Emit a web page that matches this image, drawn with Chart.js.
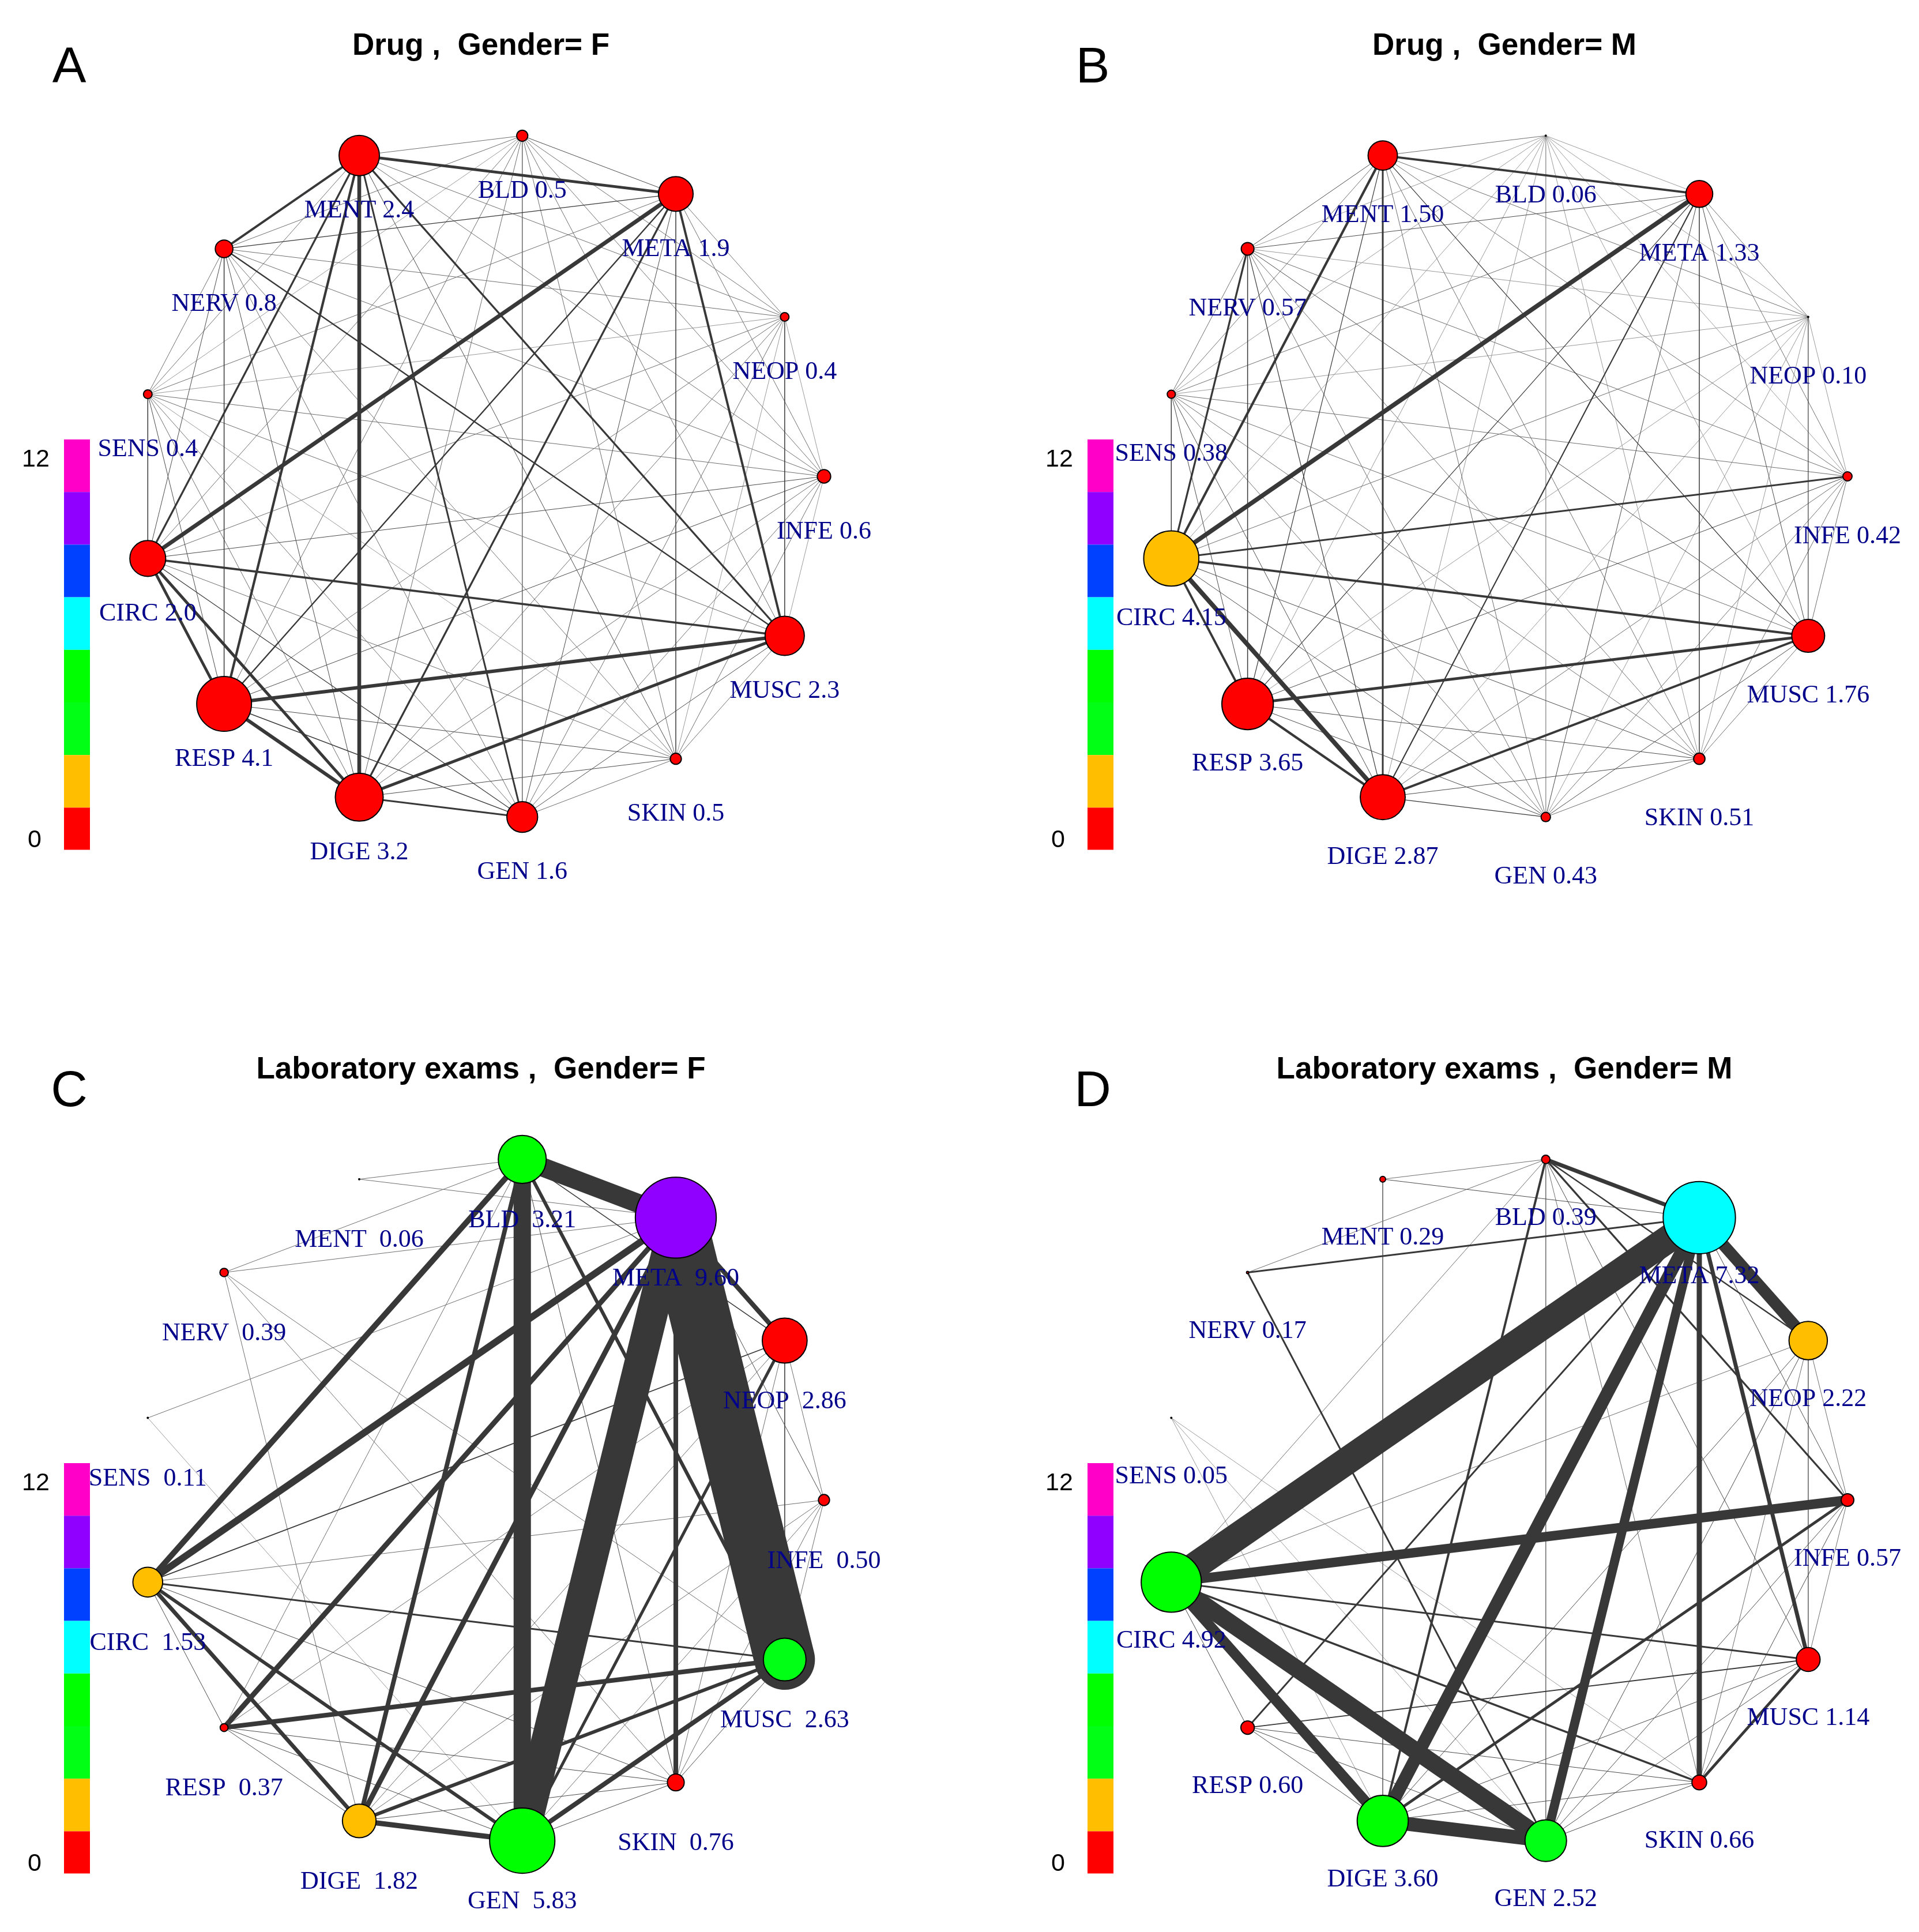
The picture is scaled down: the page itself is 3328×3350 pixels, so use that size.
<!DOCTYPE html>
<html lang="en">
<head>
  <meta charset="UTF-8">
  <title>Comorbidity networks by gender</title>
  <script src="https://cdn.jsdelivr.net/npm/chart.js"></script>
  <style>
    body {
      margin: 0;
      background: #fff;
      width: 3328px;
      height: 3350px;
      position: relative;
      overflow: hidden;
    }
    canvas {
      position: absolute;
    }
  </style>
</head>
<body>
  <canvas id="netA" width="1553" height="1575" style="left:0;top:0"></canvas>
  <canvas id="netB" width="1553" height="1575" style="left:1775px;top:0"></canvas>
  <canvas id="netC" width="1553" height="1575" style="left:0;top:1775px"></canvas>
  <canvas id="netD" width="1553" height="1575" style="left:1775px;top:1775px"></canvas>

  <script>
    // node order round the circle (clockwise from top-left)
    const groups = ["MENT", "BLD", "META", "NEOP", "INFE", "MUSC", "SKIN", "GEN", "DIGE", "RESP", "CIRC", "SENS", "NERV"];

    // value printed next to each node (also drives node size)
    const drugF = [2.4, 0.5, 1.9, 0.4, 0.6, 2.3, 0.5, 1.6, 3.2, 4.1, 2.0, 0.4, 0.8];
    const drugM = [1.50, 0.06, 1.33, 0.10, 0.42, 1.76, 0.51, 0.43, 2.87, 3.65, 4.15, 0.38, 0.57];
    const labF  = [0.06, 3.21, 9.60, 2.86, 0.50, 2.63, 0.76, 5.83, 1.82, 0.37, 1.53, 0.11, 0.39];
    const labM  = [0.29, 0.39, 7.32, 2.22, 0.57, 1.14, 0.66, 2.52, 3.60, 0.60, 4.92, 0.05, 0.17];

    // score on the 0-12 colour scale for each node
    const drugF_score = [0.8, 0.8, 0.8, 0.8, 0.8, 0.8, 0.8, 0.8, 0.8, 0.8, 0.8, 0.8, 0.8];
    const drugM_score = [0.8, 0.5, 0.8, 0.5, 0.8, 0.8, 0.8, 0.8, 0.8, 0.8, 2.2, 0.5, 0.8];
    const labF_score  = [0.5, 4.5, 9.8, 1.0, 0.5, 4.0, 0.8, 5.0, 2.2, 0.5, 2.0, 0.3, 0.5];
    const labM_score  = [0.5, 0.6, 6.8, 2.3, 0.7, 1.2, 0.8, 4.0, 4.5, 0.7, 5.0, 0.2, 0.3];

    // colour scale
    const scaleTicks = [0, 12];
    const scaleColours = ["#FF0000", "#FFBF00", "#00FF14", "#00FF00", "#00FFFF", "#0040FF", "#9000FF", "#FF00C8"];

    // link strength, upper triangle: row i lists links to groups i+1 .. 12
    const drugF_links = [
      [0.3, 1.6, 0.3, 0.3, 1.1, 0.35, 1.0, 2.2, 1.4, 1.1, 0.3, 1.3],
      [0.35, 0.3, 0.3, 0.3, 0.3, 0.3, 0.3, 0.3, 0.3, 0.25, 0.3],
      [0.3, 0.3, 1.3, 0.5, 0.35, 1.1, 0.8, 2.3, 0.3, 0.4],
      [0.25, 0.5, 0.25, 0.3, 0.3, 0.3, 0.3, 0.25, 0.3],
      [0.25, 0.3, 0.3, 0.3, 0.35, 0.35, 0.3, 0.3],
      [0.3, 0.35, 1.7, 2.0, 1.2, 0.3, 0.8],
      [0.3, 0.35, 0.35, 0.3, 0.25, 0.3],
      [1.0, 0.5, 0.4, 0.3, 0.3],
      [2.0, 1.7, 0.3, 0.35],
      [1.6, 0.35, 0.5],
      [0.5, 0.35],
      [0.3]
    ];
    const drugM_links = [
      [0.3, 1.3, 0.3, 0.3, 0.4, 0.3, 0.3, 1.0, 0.4, 1.4, 0.3, 0.35],
      [0.25, 0.25, 0.25, 0.25, 0.25, 0.25, 0.25, 0.25, 0.25, 0.25, 0.25],
      [0.3, 0.3, 0.35, 0.5, 0.35, 0.7, 0.4, 2.6, 0.3, 0.35],
      [0.25, 0.4, 0.25, 0.25, 0.25, 0.25, 0.3, 0.25, 0.25],
      [0.3, 0.3, 0.3, 0.3, 0.35, 1.0, 0.3, 0.3],
      [0.3, 0.35, 1.3, 1.6, 1.3, 0.3, 0.35],
      [0.3, 0.35, 0.35, 0.35, 0.3, 0.3],
      [0.4, 0.35, 0.35, 0.3, 0.3],
      [1.4, 2.6, 0.35, 0.4],
      [1.3, 0.35, 0.5],
      [0.5, 1.1],
      [0.3]
    ];
    const labF_links = [
      [0.3, 0.3, 0, 0, 0, 0, 0, 0, 0, 0, 0, 0],
      [11, 0.5, 0, 2.0, 0.35, 10, 2.6, 0.3, 3.3, 0, 0.3],
      [2.7, 0.35, 35, 2.7, 18, 3.0, 3.0, 4.0, 0.3, 0.3],
      [0.3, 0.35, 0.3, 1.7, 0.3, 0.3, 0.6, 0, 0],
      [0.3, 0.3, 0.3, 0.3, 0, 0.3, 0, 0],
      [0.35, 2.7, 2.0, 2.7, 1.0, 0, 0.3],
      [0.35, 0.35, 0.35, 0.35, 0, 0.3],
      [3.0, 0.35, 2.0, 0.25, 0],
      [0.35, 2.3, 0, 0.3],
      [0.35, 0, 0],
      [0, 0],
      [0]
    ];
    const labM_links = [
      [0.3, 0.35, 0, 0, 0, 0, 0, 0.3, 0, 0, 0, 0],
      [2.3, 0.8, 1.1, 0.35, 0.3, 0.3, 1.3, 0, 0.3, 0, 0.3],
      [6.7, 0.35, 2.3, 3.0, 5.3, 7.3, 1.0, 16, 0, 1.0],
      [0.3, 0.3, 0.3, 0.35, 0.35, 0, 0.3, 0, 0],
      [0.3, 0.35, 0.35, 1.6, 0, 5.5, 0, 0],
      [1.6, 0.35, 0.35, 0.6, 1.0, 0, 0],
      [0.35, 0.35, 0.35, 1.2, 0.25, 0],
      [8.0, 0.35, 10, 0.25, 1.0],
      [0.35, 6.0, 0.25, 0],
      [0.35, 0, 0],
      [0, 0],
      [0]
    ];

    const panels = [
      { id: "netA", letter: "A", title: "Drug ,  Gender= F", values: drugF, score: drugF_score, links: drugF_links, digits: 1, sep: " ", labelGap: 96 },
      { id: "netB", letter: "B", title: "Drug ,  Gender= M", values: drugM, score: drugM_score, links: drugM_links, digits: 2, sep: " ", labelGap: 104 },
      { id: "netC", letter: "C", title: "Laboratory exams ,  Gender= F", values: labF, score: labF_score, links: labF_links, digits: 2, sep: "  ", labelGap: 106 },
      { id: "netD", letter: "D", title: "Laboratory exams ,  Gender= M", values: labM, score: labM_score, links: labM_links, digits: 2, sep: " ", labelGap: 102 }
    ];

    // circle layout, INFE sits at 3 o'clock
    function layout() {
      let n = groups.length;
      return groups.map((g, i) => {
        let a = (4 - i) * 2 * Math.PI / n;
        return { x: Math.cos(a), y: Math.sin(a) };
      });
    }

    function nodeDiameter(v) {
      return Math.max(4, 61.9 * Math.log(1 + v) - 3.8);
    }

    function scoreColour(s) {
      let k = Math.min(scaleColours.length - 1, Math.floor(s / 1.5));
      return scaleColours[k];
    }

    // faint links are drawn 1px in a lighter grey
    function linkColour(w) {
      if (w < 0.3) return "#9a9a9a";
      if (w < 0.35) return "#6e6e6e";
      if (w < 0.4) return "#4a4a4a";
      return "#383838";
    }

    const decor = {
      id: "decor",
      afterDatasetsDraw(chart) {
        let p = chart.options.plugins.decor.panel;
        let ctx = chart.ctx;
        let xs = chart.scales.x, ys = chart.scales.y;
        let pos = layout();
        ctx.save();
        // node labels
        ctx.font = '44px "Liberation Serif", "Times New Roman", serif';
        ctx.fillStyle = "#00008B";
        ctx.textAlign = "center";
        ctx.textBaseline = "middle";
        groups.forEach((g, i) => {
          let px = xs.getPixelForValue(pos[i].x);
          let py = ys.getPixelForValue(pos[i].y) + p.labelGap;
          ctx.fillText(g + p.sep + p.values[i].toFixed(p.digits), px, py);
        });
        ctx.restore();
      },
      afterDraw(chart) {
        let p = chart.options.plugins.decor.panel;
        let ctx = chart.ctx;
        ctx.save();
        // title
        ctx.fillStyle = "#000";
        ctx.textAlign = "center";
        ctx.textBaseline = "middle";
        ctx.font = 'bold 53px "Liberation Sans", Arial, sans-serif';
        ctx.fillText(p.title, 834, 80);
        // panel letter
        ctx.textBaseline = "alphabetic";
        ctx.font = '88px "Liberation Sans", Arial, sans-serif';
        ctx.fillText(p.letter, 120, 143);
        // colour bar
        let top = 762, bottom = 1473.5, band = 91.2, x0 = 111, w = 45;
        scaleColours.slice().reverse().forEach((c, k) => {
          let y0 = top + k * band;
          let y1 = Math.min(bottom, y0 + band);
          ctx.fillStyle = c;
          ctx.fillRect(x0, y0, w, y1 - y0);
        });
        ctx.fillStyle = "#000";
        ctx.font = '43px "Liberation Sans", Arial, sans-serif';
        ctx.textBaseline = "middle";
        ctx.fillText(String(scaleTicks[1]), 62, 797);
        ctx.fillText(String(scaleTicks[0]), 60, 1457);
        ctx.restore();
      }
    };

    function makeChart(p) {
      let pos = layout();
      let datasets = [];
      p.links.forEach((row, i) => {
        row.forEach((w, k) => {
          let j = i + 1 + k;
          if (!w) return;
          datasets.push({
            data: [{ x: pos[i].x, y: pos[i].y }, { x: pos[j].x, y: pos[j].y }],
            showLine: true,
            borderWidth: w < 0.4 ? 1 : w * 3,
            borderColor: linkColour(w),
            borderCapStyle: "round",
            pointRadius: 0,
            clip: false,
            order: 1000 - w * 10
          });
        });
      });
      datasets.push({
        data: pos.map(q => ({ x: q.x, y: q.y })),
        pointRadius: p.values.map(v => nodeDiameter(v) / 2 - 1),
        pointBackgroundColor: p.score.map(scoreColour),
        pointBorderColor: "#000",
        pointBorderWidth: 2,
        clip: false,
        order: -1
      });

      new Chart(document.getElementById(p.id).getContext("2d"), {
        type: "scatter",
        data: { datasets: datasets },
        options: {
          responsive: false,
          animation: false,
          events: [],
          layout: { autoPadding: false, padding: { left: 120, right: 5, top: 112, bottom: 35 } },
          scales: {
            x: { type: "linear", min: -1.2, max: 1.2, display: false },
            y: { type: "linear", min: -1.2, max: 1.2, display: false }
          },
          plugins: {
            legend: { display: false },
            tooltip: { enabled: false },
            decor: { panel: p }
          }
        },
        plugins: [decor]
      });
    }

    panels.forEach(makeChart);
  </script>
</body>
</html>
